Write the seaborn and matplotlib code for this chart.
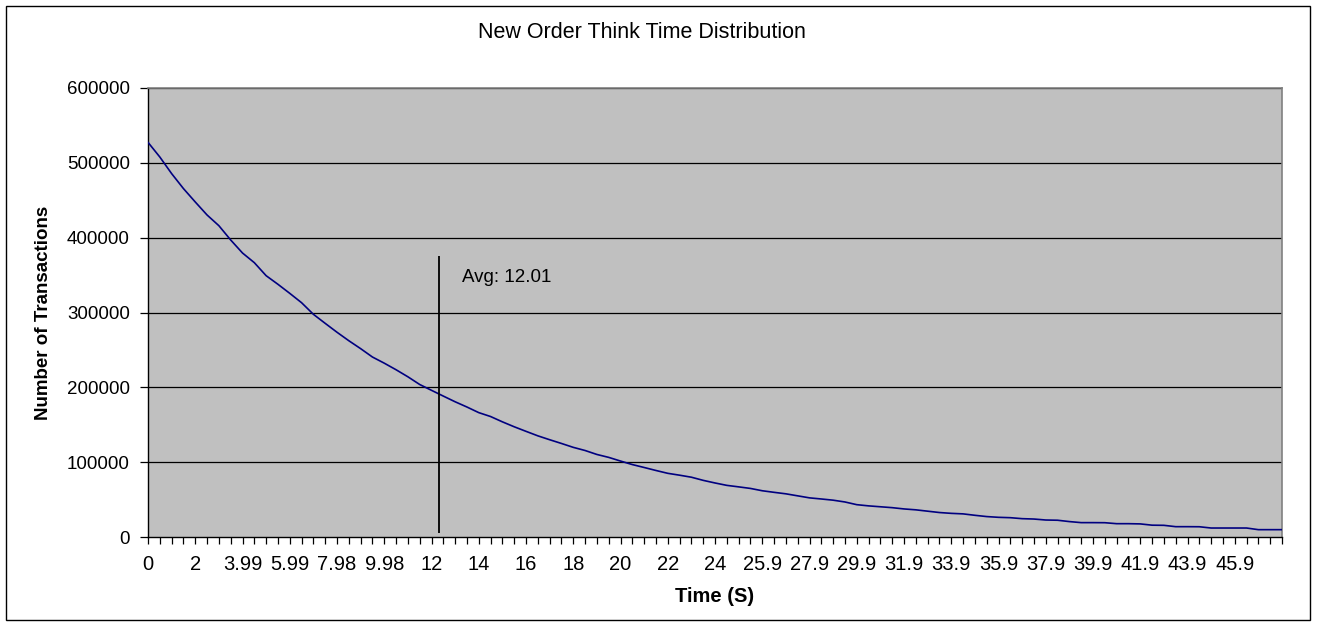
import pandas as pd
import numpy as np
import matplotlib
matplotlib.use('Agg')
import matplotlib.pyplot as plt
from matplotlib.patches import Rectangle
import seaborn as sns

# transactions per 0.499 s bucket
COUNTS = [
    527400, 507800, 485600, 465600, 447700, 430300, 416000, 396900, 379500, 366600,
    349200, 337700, 325600, 313100, 297600, 285500, 273600, 262300, 251700, 240500,
    232300, 223500, 214100, 203800, 196000, 188300, 180700, 173700, 166200, 161000,
    153900, 147300, 141200, 135200, 130000, 125000, 119800, 115600, 110300, 106400,
    101500, 96800, 92900, 88900, 85100, 82600, 79900, 75700, 72200, 69000,
    67000, 64900, 61800, 59700, 57700, 55000, 52300, 50800, 49200, 46800,
    43200, 41600, 40400, 39200, 37500, 36300, 34500, 32700, 31600, 30900,
    29000, 27300, 26300, 25800, 24500, 24000, 22700, 22400, 20600, 19200,
    19200, 19100, 17800, 17800, 17500, 15800, 15600, 13800, 13800, 13700,
    12000, 12000, 12000, 12000, 9800, 9800, 9800,
]
TIME_LABELS = ['0', '2', '3.99', '5.99', '7.98', '9.98', '12', '14', '16', '18',
               '20', '22', '24', '25.9', '27.9', '29.9', '31.9', '33.9', '35.9',
               '37.9', '39.9', '41.9', '43.9', '45.9']
Y_TICKS = [0, 100000, 200000, 300000, 400000, 500000, 600000]
AVG_TEXT = 'Avg: 12.01'
AVG_POS = 24.65          # where the avg marker sits on the category axis
AVG_SPAN = (5300, 375500)

df = pd.DataFrame({'bucket': np.arange(len(COUNTS)), 'count': COUNTS})

sns.set_style('white')
plt.rcParams['font.family'] = ['Liberation Sans', 'DejaVu Sans']
plt.rcParams['text.color'] = 'black'
plt.rcParams['axes.labelcolor'] = 'black'
plt.rcParams['xtick.color'] = 'black'
plt.rcParams['ytick.color'] = 'black'

fig = plt.figure(figsize=(13.17, 6.23), dpi=100)
ax = fig.add_axes([148 / 1317, 1 - 537 / 623, (1282 - 148) / 1317, (537 - 88) / 623])
ax.set_facecolor('#c0c0c0')

for y in Y_TICKS[1:]:
    ax.axhline(y, color='black', lw=0.9, zorder=1)

sns.lineplot(data=df, x='bucket', y='count', ax=ax, color='#000080', lw=1.2, zorder=3)

ax.vlines(AVG_POS, AVG_SPAN[0], AVG_SPAN[1], color='black', lw=1.3, zorder=4)
ax.text(AVG_POS + 1.95, 347400, AVG_TEXT, fontsize=13.5, va='center', ha='left')

ax.set_xlim(0, len(COUNTS) - 1)
ax.set_ylim(0, 600000)
ax.set_yticks(Y_TICKS)
ax.set_yticklabels([str(v) for v in Y_TICKS], fontsize=13.5)
ax.set_xticks(np.arange(0, len(TIME_LABELS) * 4, 4))
ax.set_xticklabels(TIME_LABELS, fontsize=14.5)
ax.set_xticks(np.arange(len(COUNTS)), minor=True)
ax.tick_params(axis='x', which='both', direction='out', length=5, width=0.9,
               bottom=True, pad=8)
ax.tick_params(axis='y', direction='out', length=6, width=0.9, left=True, pad=7)

ax.set_xlabel('Time (S)', fontsize=14.5, fontweight='bold', labelpad=9)
ax.set_ylabel('Number of Transactions', fontsize=13.5, fontweight='bold', labelpad=11)

for side in ['left', 'bottom']:
    ax.spines[side].set_color('black')
    ax.spines[side].set_linewidth(1.0)
for side in ['top', 'right']:
    ax.spines[side].set_color('#808080')
    ax.spines[side].set_linewidth(1.2)

fig.text(642 / 1317, 1 - 32 / 623, 'New Order Think Time Distribution',
         fontsize=15.5, ha='center', va='center')

fig.patches.append(Rectangle((6 / 1317, 3 / 623), (1310 - 6) / 1317, (617 - 3) / 623,
                             transform=fig.transFigure, fill=False,
                             edgecolor='black', lw=1.0))

fig.savefig('out.png', dpi=100, facecolor='white')
